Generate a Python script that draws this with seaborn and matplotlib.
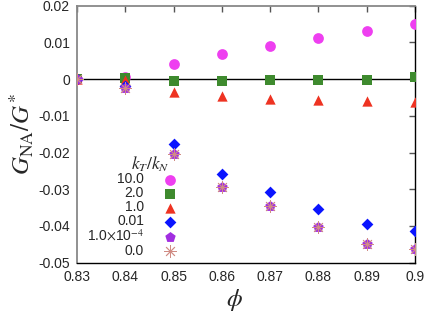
import numpy as np
import pandas as pd
import matplotlib
matplotlib.use("Agg")
import matplotlib.pyplot as plt
import seaborn as sns

phi = [0.83, 0.84, 0.85, 0.86, 0.87, 0.88, 0.89, 0.90]
labels = ["10.0", "2.0", "1.0", "0.01", r"1.0$\times$10$^{-4}$", "0.0"]
g_10 = [0.0, 0.0005, 0.0040, 0.0069, 0.0091, 0.0113, 0.0132, 0.0151]
g_2 = [0.0, 0.0002, -0.0005, -0.0004, -0.0001, -0.0002, -0.0003, 0.0007]
g_1 = [0.0, -0.0002, -0.0036, -0.0047, -0.0054, -0.0056, -0.0059, -0.0062]
g_001 = [0.0, -0.0020, -0.0176, -0.0259, -0.0308, -0.0355, -0.0394, -0.0414]
g_1e4 = [0.0, -0.0024, -0.0203, -0.0295, -0.0347, -0.0403, -0.0448, -0.0462]
g_0 = [0.0, -0.0024, -0.0203, -0.0295, -0.0347, -0.0403, -0.0448, -0.0462]
series = [g_10, g_2, g_1, g_001, g_1e4, g_0]

colors = ["#ee3ff0", "#3e8a2e", "#ee3322", "#0a14ff", "#a12ee0", "#d08c84"]
markers = ["o", "s", "^", "D", "p", (8, 2, 0)]
sizes = [60, 60, 55, 36, 62, 75]

sns.set_style("white")
plt.rcParams["font.family"] = ["Liberation Sans", "DejaVu Sans"]
plt.rcParams["mathtext.fontset"] = "stix"

fig = plt.figure(figsize=(4.36, 3.27), dpi=100)
ax = fig.add_axes([0.1766, 0.197, 0.7754, 0.7853])

ax.axhline(0, color="black", lw=1.0, zorder=1)

for lab, vals, c, m, s in zip(labels, series, colors, markers, sizes):
    df = pd.DataFrame({"phi": phi, "g": vals})
    if m == (8, 2, 0):
        sns.scatterplot(data=df, x="phi", y="g", ax=ax, color=c, marker=m, s=s,
                        linewidth=0.6, edgecolor=c, label=lab, zorder=3)
    else:
        sns.scatterplot(data=df, x="phi", y="g", ax=ax, color=c, marker=m, s=s,
                        linewidth=0, label=lab, zorder=3)

ax.set_xlim(0.83, 0.90)
ax.set_ylim(-0.05, 0.02)
ax.set_xticks([0.83, 0.84, 0.85, 0.86, 0.87, 0.88, 0.89, 0.90])
ax.set_xticklabels(["0.83", "0.84", "0.85", "0.86", "0.87", "0.88", "0.89", "0.9"])
ax.set_yticks([0.02, 0.01, 0, -0.01, -0.02, -0.03, -0.04, -0.05])
ax.set_yticklabels(["0.02", "0.01", "0", "-0.01", "-0.02", "-0.03", "-0.04", "-0.05"])
ax.tick_params(direction="in", length=4, width=1, color="#555555",
               top=True, right=True, labelsize=10, pad=5)

ax.set_xlabel(r"$\phi$", fontsize=18)
ax.xaxis.set_label_coords(0.467, -0.146)
ax.xaxis.label.set_va("center")
ax.set_ylabel(r"$G_{\rm NA}/G^{*}$", fontsize=18, labelpad=2)

for side in ["left", "top"]:
    ax.spines[side].set_color("#888888")
    ax.spines[side].set_linewidth(1.3)
for side in ["right", "bottom"]:
    ax.spines[side].set_color("black")
    ax.spines[side].set_linewidth(1.0)

leg = ax.legend(loc="upper right", bbox_to_anchor=(0.346, 0.39), frameon=False,
                markerfirst=False, fontsize=10,
                handletextpad=0.9, labelspacing=0.0, borderpad=0.2)
for t in leg.get_texts():
    t.set_ha("right")
leg._legend_box.align = "right"
ax.text(0.218, 0.344, r"$k_T/k_N$", transform=ax.transAxes, fontsize=12.5,
        ha="center", va="bottom")

fig.savefig("out.png", dpi=100)
